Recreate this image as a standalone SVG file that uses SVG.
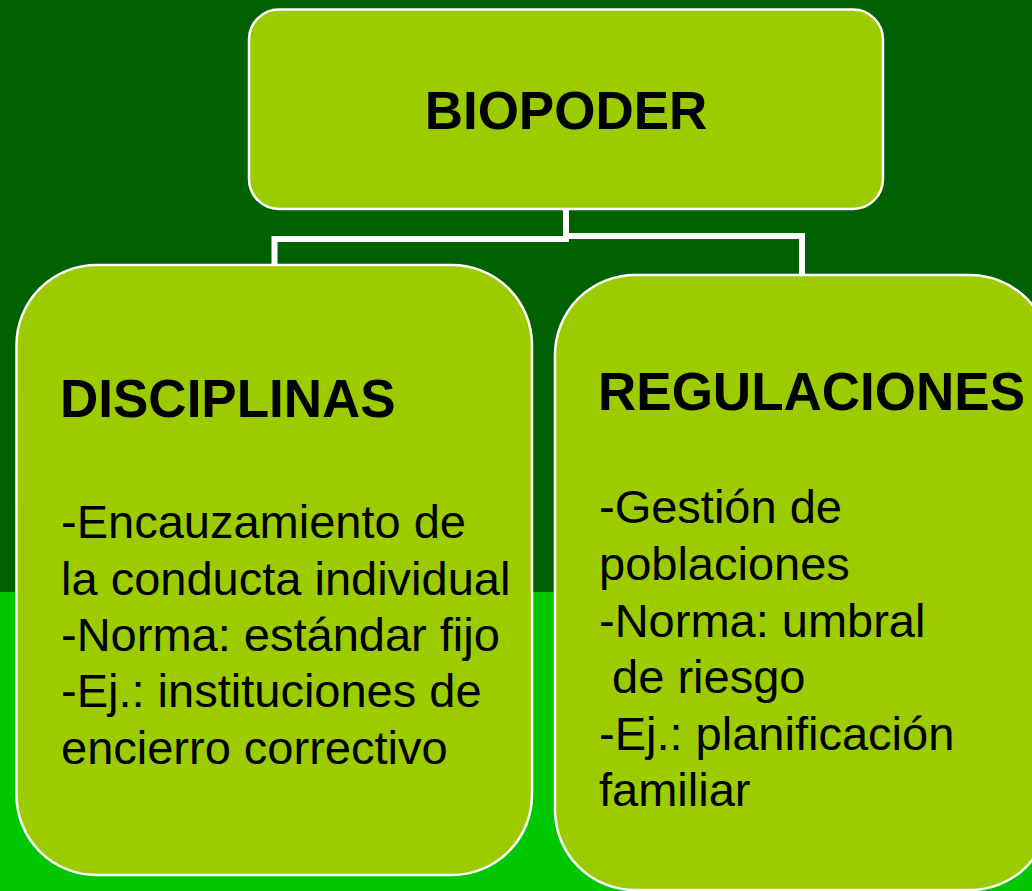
<svg xmlns="http://www.w3.org/2000/svg" width="1032" height="891" viewBox="0 0 1032 891">
  <style>
    .box { fill: #9ccc00; stroke: #ffffff; stroke-width: 2.5; }
    .conn { fill: none; stroke: #ffffff; stroke-width: 6; stroke-linejoin: miter; stroke-linecap: butt; }
    .head { font-family: "Liberation Sans", Arial, sans-serif; font-weight: bold; font-size: 53px; fill: #000000; }
    .body { font-family: "Liberation Sans", Arial, sans-serif; font-size: 47px; fill: #000000; white-space: pre; }
  </style>
  <rect x="0" y="0" width="1032" height="592" fill="#006100"/>
  <rect x="0" y="592" width="1032" height="299" fill="#00c700"/>

  <g id="connectors">
    <path class="conn" d="M566,209 V239 H274.5 V265"/>
    <path class="conn" d="M566,236 H802 V275"/>
  </g>

  <g id="node-biopoder">
    <rect class="box" x="249" y="9.5" width="634" height="199.5" rx="30" ry="30"/>
    <text class="head" x="566" y="129" text-anchor="middle">BIOPODER</text>
  </g>

  <g id="node-disciplinas">
    <rect class="box" x="16.5" y="265" width="515.5" height="610" rx="80" ry="80"/>
    <text class="head" x="60" y="417">DISCIPLINAS</text>
    <text class="body" x="61" y="538">-Encauzamiento de</text>
    <text class="body" x="61" y="594.5">la conducta individual</text>
    <text class="body" x="61" y="651">-Norma: estándar fijo</text>
    <text class="body" x="61" y="707">-Ej.: instituciones de</text>
    <text class="body" x="61" y="763.5">encierro correctivo</text>
  </g>

  <g id="node-regulaciones">
    <rect class="box" x="555" y="275" width="495" height="615" rx="80" ry="80"/>
    <text class="head" x="598" y="410">REGULACIONES</text>
    <text class="body" x="599" y="523">-Gestión de</text>
    <text class="body" x="599" y="579.5">poblaciones</text>
    <text class="body" x="599" y="636.5">-Norma: umbral</text>
    <text class="body" x="599" y="693" xml:space="preserve"> de riesgo</text>
    <text class="body" x="599" y="750">-Ej.: planificación</text>
    <text class="body" x="599" y="806">familiar</text>
  </g>
</svg>
